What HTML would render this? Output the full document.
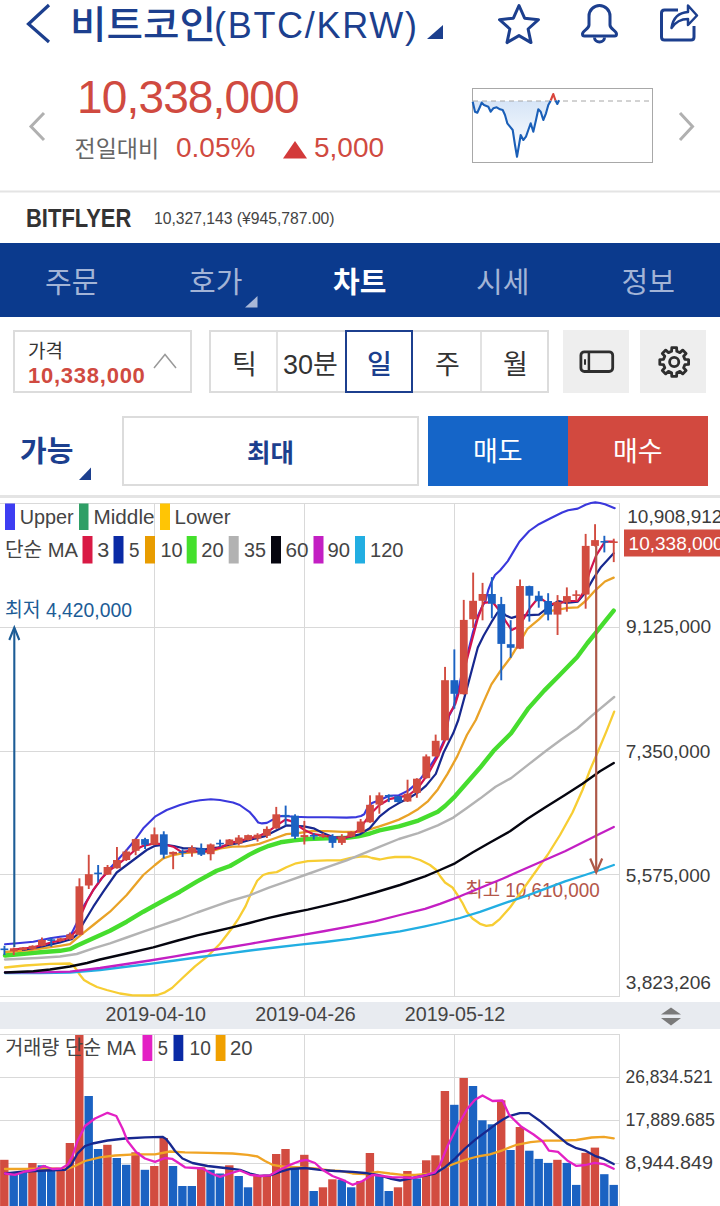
<!DOCTYPE html>
<html lang="ko">
<head>
<meta charset="utf-8">
<title>비트코인(BTC/KRW)</title>
<style>
html,body{margin:0;padding:0;}
body{width:720px;height:1206px;position:relative;overflow:hidden;background:#fff;
  font-family:"Liberation Sans","Noto Sans CJK KR",sans-serif;color:#333;}
.a{position:absolute;white-space:nowrap;line-height:1;}
.blue{color:#1c3f8e;}
.red{color:#d04a40;}
svg{position:absolute;left:0;top:0;overflow:visible;}
svg text{font-family:"Liberation Sans","Noto Sans CJK KR",sans-serif;}
/* nav */
#nav{left:0;top:243px;width:720px;height:74px;background:#0b3a8d;}
#nav .t{position:absolute;top:26px;font-size:29px;color:#a3b4d6;line-height:1;}
/* controls */
.box{position:absolute;box-sizing:border-box;border:2px solid #dcdcdc;background:#fff;}
.gbtn{position:absolute;background:#eeeeee;}
.tk{font-weight:400;} #tk3{font-weight:500;}
.seg{position:absolute;top:0;height:100%;box-sizing:border-box;border-left:2px solid #e2e2e2;}
</style>
</head>
<body>

<!-- ===== header ===== -->
<svg width="720" height="60" viewBox="0 0 720 60">
  <polyline points="49,5 28.500,24 49,42" fill="none" stroke="#1c3f8e" stroke-width="3.200"/>
  <polygon points="443,25 443,39 427,39" fill="#1c3f8e"/>
  <!-- star -->
  <path d="M519.0,5.5 L524.6,18.2 L538.5,19.7 L528.1,29.0 L531.0,42.6 L519.0,35.6 L507.0,42.6 L509.9,29.0 L499.5,19.7 L513.4,18.2 Z" fill="none" stroke="#1c3f8e" stroke-width="3" stroke-linejoin="round"/>
  <!-- bell -->
  <path d="M589,25 L589,16 A10.5,10.5 0 0 1 610,16 L610,25 C610,29 616.5,30.5 616.5,34 Q616.5,36 614.5,36 L584.5,36 Q582.5,36 582.5,34 C582.5,30.5 589,29 589,25 Z" fill="none" stroke="#1c3f8e" stroke-width="3" stroke-linejoin="round"/>
  <path d="M594.5,37.5 A5,4.5 0 0 0 604.5,37.5" fill="none" stroke="#1c3f8e" stroke-width="3"/>
  <!-- share -->
  <path d="M678,10 L664.5,10 Q661.5,10 661.5,13 L661.5,37 Q661.5,40 664.5,40 L691,40 Q694,40 694,37 L694,26" fill="none" stroke="#1c3f8e" stroke-width="3"/>
  <path d="M671.5,28 C673,18 679,12.5 688,12 L688,5.5 L697,15.5 L688,25 L688,19 C680,19 675.5,22 671.5,28 Z" fill="none" stroke="#1c3f8e" stroke-width="2.500" stroke-linejoin="round"/>
</svg>
<div class="a blue" id="title" style="left:70px;top:6px;font-size:38px;font-weight:500;transform:scaleX(1.045);transform-origin:0 0;">비트코인</div>
<div class="a blue" id="title2" style="left:214px;top:8px;font-size:36px;letter-spacing:1.700px;">(BTC/KRW)</div>

<!-- ===== price block ===== -->
<div class="a red" id="price" style="left:77px;top:74px;font-size:46px;letter-spacing:-0.85px;">10,338,000</div>
<div class="a" id="prev" style="left:74.500px;top:138px;font-size:23px;color:#666;">전일대비</div>
<div class="a red" id="pct" style="left:176px;top:134px;font-size:28px;">0.05%</div>
<div class="a red" id="chg" style="left:314px;top:134px;font-size:28px;">5,000</div>
<svg width="720" height="200" viewBox="0 0 720 200">
  <polygon points="295,141 307,158.500 283,158.500" fill="#d33a3a"/>
  <polyline points="44,113 31,126.500 44,140" fill="none" stroke="#b0b0b0" stroke-width="3"/>
  <polyline points="680,113 692.500,126.500 680,140" fill="none" stroke="#b0b0b0" stroke-width="3"/>
  <!-- mini chart -->
  <defs><linearGradient id="mg" x1="0" y1="0" x2="0" y2="1"><stop offset="0" stop-color="#d6e5f7"/><stop offset="1" stop-color="#ffffff"/></linearGradient></defs>
  <rect x="472.5" y="88.5" width="180" height="74" fill="#fff" stroke="#a8a8a8" stroke-width="1"/>
  <path d="M472.7,101 L472.7,101.7 L475.0,111.7 L477.3,112.7 L480.0,106.7 L481.7,102.7 L484.0,105.0 L488.3,106.7 L490.7,111.7 L493.3,108.3 L496.7,107.3 L500.0,109.3 L502.7,110.0 L505.0,115.0 L507.3,123.3 L510.0,126.7 L512.7,130.0 L515.0,145.0 L517.0,156.7 L519.3,143.3 L520.7,135.0 L523.3,140.0 L526.0,136.7 L528.3,130.0 L530.7,123.3 L533.3,131.7 L536.0,120.0 L538.3,109.3 L540.7,111.7 L543.3,120.0 L546.0,113.3 L548.3,105.0 L550.7,100.7 L550.7,101 Z" fill="url(#mg)"/>
  <line x1="473" y1="101" x2="652" y2="101" stroke="#a6a6a6" stroke-width="1" stroke-dasharray="5,4"/>
  <polyline points="472.7,101.7 475.0,111.7 477.3,112.7 480.0,106.7 481.7,102.7 484.0,105.0 488.3,106.7 490.7,111.7 493.3,108.3 496.7,107.3 500.0,109.3 502.7,110.0 505.0,115.0 507.3,123.3 510.0,126.7 512.7,130.0 515.0,145.0 517.0,156.7 519.3,143.3 520.7,135.0 523.3,140.0 526.0,136.7 528.3,130.0 530.7,123.3 533.3,131.7 536.0,120.0 538.3,109.3 540.7,111.7 543.3,120.0 546.0,113.3 548.3,105.0 550.7,100.7" fill="none" stroke="#1a5fb8" stroke-width="2.100" stroke-linejoin="round"/>
  <polyline points="550.7,100.500 553.3,94 555.5,100.500" fill="none" stroke="#d9453c" stroke-width="2.100" stroke-linejoin="round"/>
  <polyline points="555.5,100.500 557.3,104 559.2,100.300" fill="none" stroke="#1a5fb8" stroke-width="2.100" stroke-linejoin="round"/>
  <line x1="0" y1="191.500" x2="720" y2="191.500" stroke="#e4e4e4" stroke-width="2"/>
</svg>

<div class="a" id="bitflyer" style="left:25.500px;top:205px;font-size:26px;font-weight:bold;color:#333;transform:scaleX(0.845);transform-origin:0 0;">BITFLYER</div>
<div class="a" id="bfprice" style="left:154px;top:210.500px;font-size:15.700px;color:#444;">10,327,143 (¥945,787.00)</div>

<!-- ===== nav ===== -->
<div class="a" id="nav">
  <div class="t" id="n1" style="left:45px;">주문</div>
  <div class="t" id="n2" style="left:189px;">호가</div>
  <div class="t" id="n3" style="left:333px;color:#fff;font-weight:bold;">차트</div>
  <div class="t" id="n4" style="left:476px;">시세</div>
  <div class="t" id="n5" style="left:621.500px;">정보</div>
  <svg width="720" height="74"><polygon points="257.500,53 257.500,64.500 245,64.500" fill="#a9b8d8"/></svg>
</div>

<!-- ===== controls ===== -->
<div class="box" style="left:13px;top:330px;width:179px;height:63px;"></div>
<div class="a" id="gakyuk" style="left:28px;top:342px;font-size:19px;color:#333;">가격</div>
<div class="a red" id="gprice" style="left:28px;top:365px;font-size:22px;font-weight:bold;letter-spacing:0.750px;">10,338,000</div>
<svg width="720" height="400"><polyline points="154,368 165,354.500 176,368" fill="none" stroke="#999" stroke-width="1.500"/></svg>

<div class="box" style="left:209px;top:330px;width:340px;height:63px;"></div>
<div class="a" style="left:276px;top:332px;width:2px;height:59px;background:#e2e2e2;"></div>
<div class="a" style="left:480px;top:332px;width:2px;height:59px;background:#e2e2e2;"></div>
<div class="a" style="left:345px;top:330px;width:68px;height:63px;box-sizing:border-box;border:2px solid #1c3f8e;"></div>
<div class="a tk" id="tk1" style="left:232px;top:351.500px;font-size:27px;color:#333;">틱</div>
<div class="a tk" id="tk2" style="left:283px;top:351.500px;font-size:27px;color:#333;">30분</div>
<div class="a tk blue" id="tk3" style="left:367px;top:351.500px;font-size:27px;">일</div>
<div class="a tk" id="tk4" style="left:435px;top:351.500px;font-size:27px;color:#333;">주</div>
<div class="a tk" id="tk5" style="left:503px;top:351.500px;font-size:27px;color:#333;">월</div>

<div class="gbtn" style="left:563px;top:330px;width:66px;height:63px;"></div>
<div class="gbtn" style="left:640px;top:330px;width:66px;height:63px;"></div>
<svg width="720" height="400">
  <rect x="580.9" y="351.800" width="31.800" height="19.700" rx="3.500" fill="none" stroke="#2e2e2e" stroke-width="2.800"/>
  <line x1="588.9" y1="351.800" x2="588.9" y2="371.500" stroke="#2e2e2e" stroke-width="2.500"/>
  <line x1="585" y1="359.300" x2="585" y2="364.800" stroke="#2e2e2e" stroke-width="2"/>
  <path d="M671.6,351.3 L671.8,347.6 L676.6,347.6 L676.8,351.3 L679.9,352.6 L682.7,350.1 L686.1,353.5 L683.6,356.3 L684.9,359.4 L688.6,359.6 L688.6,364.4 L684.9,364.6 L683.6,367.7 L686.1,370.5 L682.7,373.9 L679.9,371.4 L676.8,372.7 L676.6,376.4 L671.8,376.4 L671.6,372.7 L668.5,371.4 L665.7,373.9 L662.3,370.5 L664.8,367.7 L663.5,364.6 L659.8,364.4 L659.8,359.6 L663.5,359.4 L664.8,356.3 L662.3,353.5 L665.7,350.1 L668.5,352.6 Z" fill="none" stroke="#2e2e2e" stroke-width="2.800" stroke-linejoin="round"/>
  <circle cx="674.2" cy="362" r="4.600" fill="none" stroke="#2e2e2e" stroke-width="2.800"/>
</svg>

<!-- ===== order row ===== -->
<div class="a blue" id="ganung" style="left:20px;top:438px;font-size:29px;font-weight:bold;">가능</div>
<svg width="720" height="500"><polygon points="91,467.500 91,480 79,480" fill="#1c3f8e"/></svg>
<div class="box" style="left:122px;top:416px;width:297px;height:70px;"></div>
<div class="a blue" id="choidae" style="left:247px;top:441px;font-size:25.500px;font-weight:bold;">최대</div>
<div class="a" style="left:428px;top:416px;width:140px;height:70px;background:#1565c8;"></div>
<div class="a" style="left:568px;top:416px;width:140px;height:70px;background:#d2493f;"></div>
<div class="a" id="maedo" style="left:473px;top:439px;font-size:27px;color:#fff;">매도</div>
<div class="a" id="maesu" style="left:613px;top:439px;font-size:27px;color:#fff;">매수</div>

<!-- ===== chart ===== -->
<div class="a" style="left:0;top:495px;width:720px;height:3px;background:#e4e4e4;"></div>
<div class="a" style="left:0;top:1002px;width:720px;height:27px;background:#e8ebf0;"></div>

<svg id="chart" width="720" height="1206" viewBox="0 0 720 1206">
<!--main-->
<g shape-rendering="crispEdges" stroke="#d9d9d9" stroke-width="1" fill="none">
<path d="M0,503.5 H619.5 V996.5 H0"/>
<line x1="154.5" y1="504" x2="154.5" y2="996"/>
<line x1="304.5" y1="504" x2="304.5" y2="996"/>
<line x1="454.5" y1="504" x2="454.5" y2="996"/>
<line x1="0" y1="627.5" x2="619" y2="627.5"/>
<line x1="0" y1="751.5" x2="619" y2="751.5"/>
<line x1="0" y1="874.5" x2="619" y2="874.5"/>
</g>
<text x="5" y="617" font-size="20" fill="#1c5c96" textLength="127" lengthAdjust="spacingAndGlyphs">최저 4,420,000</text>
<text x="465.3" y="897" font-size="20" fill="#b4574a" textLength="134.500" lengthAdjust="spacingAndGlyphs">최고 10,610,000</text>
<g fill="none" stroke-linejoin="round" stroke-linecap="round">
<polyline points="5,967.5 25,965.5 50,963.8 70,963.5 73,965 76,969 80,975 84,980 90,983.5 97,987 106.7,990 120,993.5 132.5,995.3 150,995.5 157.5,995 165,992.3 172,988 182.5,978 195,966.3 207.5,956.3 220,943.8 226,936 232.5,927.5 237.8,919.7 245.6,906.1 251.4,892.5 257.2,880.8 263.1,875 268.9,873.1 276.7,872.1 286.4,867.2 296.1,863.3 307.8,861.2 327.2,860.4 340.8,860.4 350.6,857.8 360.3,856.5 367,856.5 372,858 380,859.5 388,857.8 395,857 410,857 420,860 430,865 436.3,870 440,876 445,882.5 452.5,887.5 457.5,895 462.5,903 467,912 472.5,918.5 480,923.8 486.3,925.8 492.5,925 500,918.8 510,907.5 522.5,890 535,872.5 547.5,855 560,835 572.5,812.5 582.5,790 590,770 598,751.5 606.4,731.4 614.2,711.6" stroke="#f7cd33" stroke-width="2.3"/>
<polyline points="5,944.2 20,943 33.3,941.7 50,938.3 60,936.7 66.7,936 71.7,933.3 76.7,923.3 83.3,906.7 93.3,890 101.7,878.3 110,868.3 118.3,859.2 126.7,850 135,840 143.3,828.3 155,816.7 166.7,810 180,805 191.4,801.7 200,800.2 210.8,799.3 220,800 226.4,801.3 233,802.5 239.7,805 249.4,811.8 254,817 258.2,822.5 262,823.4 266.9,822.9 272.8,819.6 280.6,816.1 287,816.2 294.2,816.7 307.8,817.2 327.2,817.2 346.7,817.6 356.4,817.1 361,816 364.2,814.3 367.8,807 372,803 379.4,800.3 389.2,795.7 398.9,795.3 408.6,790.4 418.3,781.7 428.1,769 437.8,754.4 445.6,737 449,716 453.3,708 458.3,690 463,668 468,652 473,632 477.8,616 482,607 485.6,600.8 488.3,590 491.4,582 495,575 500,570.5 507.8,561.1 513.6,551.4 519.4,541.7 529.2,531 538.9,524.2 550.6,518.3 562.2,512.5 568.1,510.2 577.8,508.6 585.6,504.7 591,503 595.3,502.4 600,503 605,504.3 614.7,508.2" stroke="#3a38dc" stroke-width="2.1"/>
<polyline points="5,973 40,973 70,972.6 100,970 120,967.5 150,963.8 175,960.5 200,957 225,953.8 250,950.5 275,947.5 300,944.7 325,942 350,938.8 375,935 400,931.3 425,926.3 440,923 460,918 480,911.8 502.5,903.8 525,896.3 545,888.8 565,881.3 585,875 600,870 613.8,865" stroke="#22aee2" stroke-width="2.3"/>
<polyline points="5,972.3 40,972.3 70,971.7 100,968 120,965 150,960.5 175,956.3 200,952 225,948 250,943.8 275,939.5 300,935.3 325,931 350,926.3 375,921.3 400,915 425,908.8 440,903.8 460,896.3 480,888 502.5,878.8 525,868.8 545,860 565,851.3 585,841.3 600,833.8 613.8,827" stroke="#c31fc3" stroke-width="2.3"/>
<polyline points="5,972.5 33.3,971.2 50,969.5 70,966.5 87,963 100,959.5 126.7,953.5 153.3,947.3 177.8,940.5 197.2,935.4 216.7,931 230,927.8 249.4,923 268.9,917.8 288.3,913.5 307.8,909.6 327.2,905.1 346.7,900.3 375,892.5 400,885 425,876.3 440,870 455,863.3 472.5,852.5 490,842.5 510,831.3 527.5,818.8 545,807.5 565,795 582.5,783.8 600,771.3 613.8,763" stroke="#05050f" stroke-width="2.4"/>
<polyline points="5,959.5 37.5,958 60,956.5 76.7,954 93.3,948.3 110,943.3 126.7,937.5 143.3,931.7 160,925.8 180,919 197.2,912.5 216.7,905.7 230,901 249.4,895.4 268.9,887.6 288.3,880.8 307.8,874 327.2,867.2 346.7,860.4 360,854.8 379.4,846.8 398.9,839 418.3,833.2 437.8,825.4 453.3,817.6 466.9,807.9 480,798.6 495.6,786.8 511.1,778.1 528.6,764.4 546.1,750.8 561.7,739.2 577.2,728.5 592.8,714.9 614.2,697" stroke="#b3b3b3" stroke-width="2.4"/>
<polyline points="5,955.5 37.5,952.5 60,950.8 70,949.2 76.7,945.8 93.3,938.3 110,930.8 126.7,921.7 143.3,911.7 160,902.5 180,891.7 197.2,881.4 216.7,870.7 230,866 239.7,860.4 249.4,854.6 259.2,849.7 268.9,845.8 280.6,842.3 294.2,840.4 307.8,839 327.2,838.4 346.7,837.7 358.3,836.3 370,833.5 379.4,830.3 398.9,826.4 418.3,820.6 437.8,811.8 445,806 455,796.3 467.5,782 480,767.8 493.6,750.8 511.1,733.3 528.6,708.1 544.2,690.6 559.7,675 577.2,657 587.5,643 597.2,631.1 605,621.4 613.7,610.7" stroke="#46dd2e" stroke-width="4.4"/>
<polyline points="5,952 30,950 60,945.8 70,944.2 76.7,938.3 85,931.7 93.3,925 110,911.7 126.7,895 143.3,875 155,865 163.3,858.3 173.3,855 183.6,853.2 197.2,852.2 208.9,851.8 220.6,848.3 232.2,846.6 245.6,846.4 259.2,843.9 272.8,839 286.4,834.2 298.1,833.2 311.7,831.2 327.2,831.2 342.8,831.8 356.4,831.8 362,831.5 369.7,829.3 379.4,826.4 389.2,823.1 398.9,819.6 408.6,814.7 418.3,808.9 428.1,801.1 437.8,789.4 447.5,773.9 457.2,756.4 466.9,735 475.8,720 483.6,701.9 491.4,684.4 501.1,670 510.8,657.2 519.4,642.8 527.2,629.2 538.9,619.4 546.7,611.7 558.3,609.7 568.1,607.8 577.8,607.4 585.6,601 595.3,590.3 605,581.5 613.7,577.6" stroke="#e9a227" stroke-width="2.3"/>
<polyline points="23,950 42,946.5 60,942.5 66.7,940.5 71.7,939.2 76.7,935 83.3,923.3 93.3,906.7 103.3,891.7 116.7,872.5 126.7,865 136.7,857.5 146.7,850 155,845.8 164.2,844.6 173.9,846 183.6,848.3 193.3,848.3 205,849.3 216.7,847.7 228.3,845 241.7,842.3 253.3,839 265,836.1 274.7,831.2 286.4,825.4 294.2,825.8 303.9,826.4 313.6,828.3 323.3,833.2 333.1,837.1 342.8,838.1 352.5,836.1 360,834.2 369.7,828.3 379.4,816.7 389.2,808.9 398.9,803.1 408.6,798.2 418.3,792.4 426.1,785.6 435.8,773.9 443.6,752.5 453.3,733.1 458.3,720 468,684.4 477.8,647.5 483.6,635.8 491.4,622.2 497.2,613 501,610.5 505.8,615.6 511.7,617.9 519.4,615.6 529.2,615.2 538.9,614.6 546.7,608.7 558.3,601 566.1,602.9 577.8,601.6 585.6,592.2 593.3,578.6 601.1,566.9 613.7,553.3" stroke="#17288f" stroke-width="2.2"/>
<polyline points="14,949.3 23,948.5 32.5,947.5 42,945 51,942.5 60.6,940.5 70,937.5 76.7,930 81.7,913.3 86.7,901.7 93.3,890 101.7,878.3 110,870 118.3,864.2 126.7,857.5 135,850 143.3,845.8 153.3,843.7 163.3,844.2 173.3,846.7 181.7,852.2 191.4,850.7 201,852.2 210.8,850.3 220.6,847.4 230,842.9 239.7,841 249.4,838.1 259.2,836.1 268.9,831.2 276.7,825.4 285.4,819.6 290.3,820.9 296.1,824.4 304.9,830.3 313.6,834.2 323.3,835.7 333.1,837.1 342.8,838.1 350.6,836.1 360.3,828.5 369.7,814.7 379.4,805 389.2,799.2 398.9,797.2 408.6,795.3 418.3,787.5 428.1,773.9 437.8,756.4 445.6,738.9 448.6,715.6 455.3,704 458.3,694.2 468,655.3 477.8,618.3 483.6,602.8 492.4,601.8 501.1,612.5 505.8,621.4 511.7,630.1 517.5,627.2 523.3,619.4 530.1,607.8 538.9,597.1 548.6,603.9 558.3,603.9 566.1,601 577.8,601 583.6,592.2 589.4,572.8 596.2,555.3 605,541.7 613.7,541.7" stroke="#d3134d" stroke-width="2.2"/>
</g>
<g fill="#d24c40"><rect x="9.9" y="948.3" width="7.8" height="3"/><rect x="12.8" y="947.5" width="1.9" height="7.5"/><rect x="19.3" y="947.5" width="7.8" height="2.5"/><rect x="22.2" y="947" width="1.9" height="3.5"/><rect x="28.6" y="945.8" width="7.8" height="3.4"/><rect x="31.6" y="945.3" width="1.9" height="4.4"/><rect x="38" y="940" width="7.8" height="5.8"/><rect x="41" y="937.5" width="1.9" height="8.8"/><rect x="56.8" y="938.3" width="7.8" height="2.5"/><rect x="59.7" y="937.8" width="1.9" height="3.5"/><rect x="66.1" y="934.5" width="7.8" height="4.7"/><rect x="69.1" y="932.5" width="1.9" height="7.2"/><rect x="75.5" y="886.3" width="7.8" height="48.5"/><rect x="78.5" y="878.3" width="1.9" height="57"/><rect x="84.9" y="874.2" width="7.8" height="11.3"/><rect x="87.8" y="854.8" width="1.9" height="34.2"/><rect x="103.6" y="867" width="7.8" height="7.7"/><rect x="106.6" y="865" width="1.9" height="10"/><rect x="113" y="860" width="7.8" height="8.3"/><rect x="116" y="847" width="1.9" height="21.6"/><rect x="122.4" y="851.5" width="7.8" height="8.5"/><rect x="125.3" y="849.6" width="1.9" height="11.4"/><rect x="131.8" y="839.1" width="7.8" height="11.7"/><rect x="134.7" y="838.6" width="1.9" height="16.6"/><rect x="150.5" y="834.3" width="7.8" height="10.5"/><rect x="153.5" y="827.5" width="1.9" height="17.7"/><rect x="169.2" y="851.9" width="7.8" height="2.6"/><rect x="172.2" y="851.5" width="1.9" height="17.7"/><rect x="188" y="847.7" width="7.8" height="5.1"/><rect x="191" y="845.4" width="1.9" height="11.3"/><rect x="206.8" y="844.4" width="7.8" height="9.8"/><rect x="209.7" y="843.5" width="1.9" height="16.9"/><rect x="225.5" y="839.5" width="7.8" height="5.4"/><rect x="228.5" y="839" width="1.9" height="6.3"/><rect x="234.9" y="837.5" width="7.8" height="6"/><rect x="237.8" y="835.1" width="1.9" height="10.3"/><rect x="244.2" y="835.1" width="7.8" height="4.9"/><rect x="247.2" y="834.6" width="1.9" height="5.9"/><rect x="253.6" y="834.7" width="7.8" height="3.7"/><rect x="256.6" y="833.2" width="1.9" height="8.4"/><rect x="263" y="828.9" width="7.8" height="6.8"/><rect x="265.9" y="826.4" width="1.9" height="11.6"/><rect x="272.4" y="814.3" width="7.8" height="14"/><rect x="275.3" y="806.9" width="1.9" height="21.9"/><rect x="300.5" y="835.1" width="7.8" height="2"/><rect x="303.4" y="820.9" width="1.9" height="23.6"/><rect x="319.2" y="835" width="7.8" height="1.6"/><rect x="322.2" y="833.2" width="1.9" height="4.8"/><rect x="338" y="836.7" width="7.8" height="6.2"/><rect x="340.9" y="834.2" width="1.9" height="10.7"/><rect x="347.4" y="831.8" width="7.8" height="4.9"/><rect x="350.3" y="831.3" width="1.9" height="5.9"/><rect x="356.8" y="821.5" width="7.8" height="10.7"/><rect x="359.7" y="819" width="1.9" height="13.6"/><rect x="366.1" y="804.8" width="7.8" height="17.5"/><rect x="369.1" y="795.3" width="1.9" height="27.5"/><rect x="375.5" y="795.3" width="7.8" height="9.3"/><rect x="378.4" y="792.4" width="1.9" height="21.3"/><rect x="403.6" y="793.7" width="7.8" height="7.8"/><rect x="406.6" y="779.7" width="1.9" height="22.3"/><rect x="413" y="778.7" width="7.8" height="14.2"/><rect x="415.9" y="778.2" width="1.9" height="19.6"/><rect x="422.4" y="756.4" width="7.8" height="21.8"/><rect x="425.3" y="754.4" width="1.9" height="24.2"/><rect x="431.8" y="740.8" width="7.8" height="15.6"/><rect x="434.7" y="734.6" width="1.9" height="22.2"/><rect x="441.1" y="680.2" width="7.8" height="60.2"/><rect x="444.1" y="666.9" width="1.9" height="73.9"/><rect x="459.9" y="619.9" width="7.8" height="74.3"/><rect x="462.8" y="599.9" width="1.9" height="94.7"/><rect x="469.2" y="600.8" width="7.8" height="18.5"/><rect x="472.2" y="572.6" width="1.9" height="55.4"/><rect x="478.6" y="594" width="7.8" height="6.8"/><rect x="481.6" y="582.9" width="1.9" height="37.4"/><rect x="516.1" y="586" width="7.8" height="62.7"/><rect x="519.1" y="579.5" width="1.9" height="69.6"/><rect x="553.6" y="601.9" width="7.8" height="12.7"/><rect x="556.6" y="595.1" width="1.9" height="39.9"/><rect x="563" y="596.1" width="7.8" height="6.2"/><rect x="565.9" y="587.4" width="1.9" height="24.3"/><rect x="572.4" y="594.3" width="7.8" height="1.6"/><rect x="575.3" y="590.3" width="1.9" height="10.7"/><rect x="581.8" y="545.9" width="7.8" height="48.7"/><rect x="584.7" y="533.9" width="1.9" height="74.8"/><rect x="591.1" y="540.1" width="7.8" height="5.8"/><rect x="594.1" y="524.2" width="1.9" height="22.3"/><rect x="609.9" y="541.4" width="7.8" height="1.6"/><rect x="612.8" y="538.7" width="1.9" height="23.4"/></g>
<g fill="#1b62c2"><rect x="0.5" y="948.5" width="7.8" height="1.6"/><rect x="3.5" y="945.8" width="1.9" height="9.2"/><rect x="47.4" y="939.3" width="7.8" height="1.6"/><rect x="50.3" y="937.5" width="1.9" height="9.2"/><rect x="94.2" y="872.6" width="7.8" height="1.6"/><rect x="97.2" y="865" width="1.9" height="17.5"/><rect x="141.1" y="839.1" width="7.8" height="5.7"/><rect x="144.1" y="837.8" width="1.9" height="11.2"/><rect x="159.9" y="834.3" width="7.8" height="20.4"/><rect x="162.8" y="831.3" width="1.9" height="27.2"/><rect x="178.6" y="851.5" width="7.8" height="1.6"/><rect x="181.6" y="849.3" width="1.9" height="7.7"/><rect x="197.4" y="848.3" width="7.8" height="6.4"/><rect x="200.3" y="843.5" width="1.9" height="12.5"/><rect x="216.1" y="842.8" width="7.8" height="1.6"/><rect x="219.1" y="839.6" width="1.9" height="7.2"/><rect x="281.8" y="814.9" width="7.8" height="1.6"/><rect x="284.7" y="805.6" width="1.9" height="19.8"/><rect x="291.1" y="815.7" width="7.8" height="21"/><rect x="294.1" y="814.3" width="1.9" height="24.7"/><rect x="309.9" y="835" width="7.8" height="1.6"/><rect x="312.8" y="833.2" width="1.9" height="6.4"/><rect x="328.6" y="836.1" width="7.8" height="6.8"/><rect x="331.6" y="834.2" width="1.9" height="13.6"/><rect x="384.9" y="795" width="7.8" height="1.6"/><rect x="387.8" y="794.3" width="1.9" height="7.8"/><rect x="394.2" y="796.2" width="7.8" height="5.9"/><rect x="397.2" y="795.8" width="1.9" height="6.7"/><rect x="450.5" y="680.2" width="7.8" height="13.6"/><rect x="453.4" y="649.4" width="1.9" height="59.3"/><rect x="488" y="594" width="7.8" height="9.7"/><rect x="490.9" y="577.1" width="1.9" height="41.2"/><rect x="497.4" y="604.1" width="7.8" height="39.8"/><rect x="500.3" y="596.9" width="1.9" height="83.4"/><rect x="506.8" y="644.2" width="7.8" height="3.6"/><rect x="509.7" y="620.2" width="1.9" height="37.6"/><rect x="525.5" y="586.1" width="7.8" height="9.6"/><rect x="528.4" y="585.7" width="1.9" height="35.9"/><rect x="534.9" y="595.7" width="7.8" height="5.5"/><rect x="537.8" y="591.2" width="1.9" height="16.5"/><rect x="544.2" y="601" width="7.8" height="13.6"/><rect x="547.2" y="593.2" width="1.9" height="27.2"/><rect x="600.5" y="541" width="7.8" height="1.6"/><rect x="603.4" y="535.8" width="1.9" height="16.6"/></g>
<g fill="none" stroke="#1c5c96" stroke-width="2.100"><line x1="14.3" y1="628" x2="14.3" y2="947"/><polyline points="9.300,640 14.3,627.500 19.3,640"/></g>
<g fill="none" stroke="#ad5848" stroke-width="2.200"><line x1="596.2" y1="546" x2="596.2" y2="872"/><polyline points="590.2,858.500 596.2,872.500 602.2,858.500"/></g>
<!--vol-->
<g shape-rendering="crispEdges" stroke="#d9d9d9" stroke-width="1" fill="none">
<path d="M0,1034.500 H619.5 V1206"/>
<line x1="154.5" y1="1035" x2="154.5" y2="1206"/>
<line x1="304.5" y1="1035" x2="304.5" y2="1206"/>
<line x1="454.5" y1="1035" x2="454.5" y2="1206"/>
<line x1="0" y1="1077.5" x2="619" y2="1077.5"/>
<line x1="0" y1="1120.5" x2="619" y2="1120.5"/>
<line x1="0" y1="1163.5" x2="619" y2="1163.5"/>
</g>
<g fill="#d24c40"><rect x="0.1" y="1159.8" width="8.4" height="46.2"/><rect x="28.2" y="1163" width="8.4" height="43"/><rect x="56.4" y="1171" width="8.4" height="35"/><rect x="65.7" y="1143" width="8.4" height="63"/><rect x="75.1" y="1035" width="8.4" height="171"/><rect x="103.2" y="1144.8" width="8.4" height="61.2"/><rect x="131.3" y="1152.3" width="8.4" height="53.7"/><rect x="150.1" y="1166" width="8.4" height="40"/><rect x="159.5" y="1138" width="8.4" height="68"/><rect x="197" y="1167.3" width="8.4" height="38.7"/><rect x="225.1" y="1165.3" width="8.4" height="40.7"/><rect x="253.2" y="1176" width="8.4" height="30"/><rect x="262.6" y="1174.8" width="8.4" height="31.2"/><rect x="272" y="1154" width="8.4" height="52"/><rect x="281.3" y="1149" width="8.4" height="57"/><rect x="300.1" y="1154.8" width="8.4" height="51.2"/><rect x="318.8" y="1187.3" width="8.4" height="18.7"/><rect x="328.2" y="1179.3" width="8.4" height="26.7"/><rect x="356.3" y="1181" width="8.4" height="25"/><rect x="365.7" y="1153" width="8.4" height="53"/><rect x="393.8" y="1187.3" width="8.4" height="18.7"/><rect x="403.2" y="1171" width="8.4" height="35"/><rect x="422" y="1160.3" width="8.4" height="45.7"/><rect x="431.3" y="1155.3" width="8.4" height="50.7"/><rect x="440.7" y="1091" width="8.4" height="115"/><rect x="459.5" y="1078" width="8.4" height="128"/><rect x="497" y="1100.3" width="8.4" height="105.7"/><rect x="515.7" y="1127" width="8.4" height="79"/><rect x="553.2" y="1159.8" width="8.4" height="46.2"/><rect x="581.4" y="1152.8" width="8.4" height="53.2"/><rect x="590.7" y="1147.6" width="8.4" height="58.4"/></g>
<g fill="#1b62c2"><rect x="9.5" y="1173.5" width="8.4" height="32.5"/><rect x="18.9" y="1172.3" width="8.4" height="33.7"/><rect x="37.6" y="1165.3" width="8.4" height="40.7"/><rect x="47" y="1171" width="8.4" height="35"/><rect x="84.5" y="1096" width="8.4" height="110"/><rect x="93.9" y="1149" width="8.4" height="57"/><rect x="112.6" y="1158" width="8.4" height="48"/><rect x="122" y="1164.8" width="8.4" height="41.2"/><rect x="140.7" y="1169.8" width="8.4" height="36.2"/><rect x="168.8" y="1166" width="8.4" height="40"/><rect x="178.2" y="1186" width="8.4" height="20"/><rect x="187.6" y="1186" width="8.4" height="20"/><rect x="206.3" y="1169.8" width="8.4" height="36.2"/><rect x="215.7" y="1173.5" width="8.4" height="32.5"/><rect x="234.5" y="1176" width="8.4" height="30"/><rect x="243.8" y="1187.3" width="8.4" height="18.7"/><rect x="290.7" y="1167.3" width="8.4" height="38.7"/><rect x="309.5" y="1191" width="8.4" height="15"/><rect x="337.6" y="1179.8" width="8.4" height="26.2"/><rect x="347" y="1187.3" width="8.4" height="18.7"/><rect x="375.1" y="1174.8" width="8.4" height="31.2"/><rect x="384.5" y="1191" width="8.4" height="15"/><rect x="412.6" y="1178.5" width="8.4" height="27.5"/><rect x="450.1" y="1104.8" width="8.4" height="101.2"/><rect x="468.8" y="1086" width="8.4" height="120"/><rect x="478.2" y="1120.3" width="8.4" height="85.7"/><rect x="487.6" y="1124.3" width="8.4" height="81.7"/><rect x="506.3" y="1150" width="8.4" height="56"/><rect x="525.1" y="1150.7" width="8.4" height="55.3"/><rect x="534.5" y="1158.9" width="8.4" height="47.1"/><rect x="543.9" y="1162.9" width="8.4" height="43.1"/><rect x="562.6" y="1162.9" width="8.4" height="43.1"/><rect x="572" y="1184.9" width="8.4" height="21.1"/><rect x="600.1" y="1174.2" width="8.4" height="31.8"/><rect x="609.5" y="1184.9" width="8.4" height="21.1"/></g>
<g fill="none" stroke-linejoin="round" stroke-linecap="round">
<polyline points="5,1169 25,1169 50,1168.5 67.5,1169 75,1166 85,1161 100,1157.3 115,1155.5 135,1154.3 155,1154.3 170,1151.5 185,1152.3 207.5,1152.8 232.5,1153.5 247.5,1154.8 257.5,1156.5 265,1161 272.5,1164.8 282.5,1166.5 300,1167.3 315,1168.5 330,1170.5 340,1170.8 352.5,1173.5 365,1174 377.5,1171.8 390,1173.5 402.5,1174.8 415,1174.8 427.5,1174 437.5,1171.8 445,1167.3 455,1163.5 465,1159.8 477.5,1156.5 490,1154.3 502.5,1150.3 515.3,1145.2 530.6,1142.1 545.8,1140.6 561.1,1140.6 576.4,1140 591.7,1137.5 603.9,1136.9 613.7,1138.4" stroke="#f0a425" stroke-width="2.3"/>
<polyline points="5,1173.5 25,1171.5 45,1170.5 65,1169.8 71.3,1164.8 77.5,1153.5 85,1146 92.5,1143.5 107.5,1140.5 125,1138.5 145,1137.3 162.5,1136.8 166,1139 170,1144 175,1151 182.5,1158.5 192.5,1163 207.5,1166 225,1168 240,1169.8 250,1173.5 260,1176 270,1175.3 280,1171.8 290,1169 305,1168 320,1169.8 335,1171 352.5,1171.8 365,1173 377.5,1174.8 390,1178.5 400,1180.5 410,1178.5 422.5,1176 435,1173.5 445,1167.3 455,1158.5 465,1148.5 475,1139.8 485,1132.3 495,1124.8 502.5,1119.8 509.2,1116.1 519.9,1113.1 529,1113.1 539.7,1120.7 548.9,1128.4 558,1136 567.2,1143.6 576.4,1148.2 585.6,1150.7 594.7,1155.8 603.9,1158.9 613.7,1164.1" stroke="#17288f" stroke-width="2.3"/>
<polyline points="5,1173.5 15,1174.8 25,1171.5 35,1169.8 43.8,1166 52.5,1169 61.3,1168.5 67.5,1164.8 72.5,1156 77.5,1141 85,1126 95,1118.5 107.5,1112.8 116.3,1116 122.5,1128.5 127.5,1141 136.3,1152.3 145,1158.5 155,1161.8 165,1158 172,1158.8 177.5,1162.3 185,1167.3 195,1168 202.5,1168.5 211.3,1173.5 220,1176.8 230,1173.5 240,1170.5 250,1174.8 260,1176 270,1175.3 280,1169.8 290,1164.8 300,1161 306.3,1159.8 315,1163 322.5,1169.8 332.5,1176 342.5,1179.8 352.5,1184.8 362.5,1181 372.5,1174.8 382.5,1176 392.5,1177.3 402.5,1177.3 412.5,1178 422.5,1176 435,1172.3 440,1164.8 447.5,1146 457.5,1126 467.5,1108.5 475,1099.8 482.5,1095.5 492.5,1101 502.5,1100.5 509.2,1115 521.4,1126.8 533.6,1134.5 542.8,1141.5 548.9,1150.7 558,1151.9 567.2,1160.4 576.4,1165.9 585.6,1165 594.7,1162.9 603.9,1164.1 613.7,1168.7" stroke="#e321c4" stroke-width="2.3"/>
</g>
<!--texts-->
<rect x="5" y="503.5" width="10" height="26.5" fill="#3d3df2"/>
<text x="19.7" y="523.7" font-size="20" fill="#444" textLength="54" lengthAdjust="spacingAndGlyphs">Upper</text>
<rect x="79" y="503.5" width="9.5" height="26.5" fill="#2f9f66"/>
<text x="93.5" y="523.7" font-size="20" fill="#444" textLength="61" lengthAdjust="spacingAndGlyphs">Middle</text>
<rect x="160" y="503.5" width="10" height="26.5" fill="#ffc505"/>
<text x="174.5" y="523.7" font-size="20" fill="#444" textLength="56" lengthAdjust="spacingAndGlyphs">Lower</text>
<text x="5" y="556.7" font-size="20" fill="#444" textLength="73" lengthAdjust="spacingAndGlyphs">단순 MA</text>
<rect x="82.5" y="536" width="10" height="27.5" fill="#d91a45"/>
<text x="97.3" y="556.6" font-size="20" fill="#444" textLength="12" lengthAdjust="spacingAndGlyphs">3</text>
<rect x="113.5" y="536" width="10" height="27.5" fill="#0a2aa5"/>
<text x="129" y="556.6" font-size="20" fill="#444" textLength="10.5" lengthAdjust="spacingAndGlyphs">5</text>
<rect x="145" y="536" width="10" height="27.5" fill="#e89c00"/>
<text x="160.5" y="556.6" font-size="20" fill="#444" textLength="22.2" lengthAdjust="spacingAndGlyphs">10</text>
<rect x="186.7" y="536" width="10" height="27.5" fill="#44e02c"/>
<text x="201.3" y="556.6" font-size="20" fill="#444" textLength="22.4" lengthAdjust="spacingAndGlyphs">20</text>
<rect x="228.7" y="536" width="10" height="27.5" fill="#b2b2b2"/>
<text x="244" y="556.6" font-size="20" fill="#444" textLength="22" lengthAdjust="spacingAndGlyphs">35</text>
<rect x="271" y="536" width="10" height="27.5" fill="#05050f"/>
<text x="285.5" y="556.6" font-size="20" fill="#444" textLength="23" lengthAdjust="spacingAndGlyphs">60</text>
<rect x="313.5" y="536" width="10" height="27.5" fill="#c31fc3"/>
<text x="327.5" y="556.6" font-size="20" fill="#444" textLength="22.5" lengthAdjust="spacingAndGlyphs">90</text>
<rect x="355" y="536" width="10" height="27.5" fill="#22aee2"/>
<text x="370" y="556.6" font-size="20" fill="#444" textLength="33.5" lengthAdjust="spacingAndGlyphs">120</text>
<text x="627.3" y="523.3" font-size="19" fill="#3c3c3c">10,908,912</text>
<rect x="624" y="529.5" width="96" height="27" fill="#d24c40"/>
<text x="628.6" y="549.8" font-size="19" fill="#fff">10,338,000</text>
<text x="626.1" y="633" font-size="19" fill="#3c3c3c" textLength="85" lengthAdjust="spacingAndGlyphs">9,125,000</text>
<text x="625.8" y="757.5" font-size="19" fill="#3c3c3c" textLength="84.5" lengthAdjust="spacingAndGlyphs">7,350,000</text>
<text x="625.8" y="881.6" font-size="19" fill="#3c3c3c" textLength="84.5" lengthAdjust="spacingAndGlyphs">5,575,000</text>
<text x="625.7" y="989.3" font-size="19" fill="#3c3c3c" textLength="85.3" lengthAdjust="spacingAndGlyphs">3,823,206</text>
<text x="105.5" y="1021" font-size="19.5" fill="#444" textLength="100.5" lengthAdjust="spacingAndGlyphs">2019-04-10</text>
<text x="255.3" y="1021" font-size="19.5" fill="#444" textLength="100.5" lengthAdjust="spacingAndGlyphs">2019-04-26</text>
<text x="404.8" y="1021" font-size="19.5" fill="#444" textLength="100.5" lengthAdjust="spacingAndGlyphs">2019-05-12</text>
<polygon points="661,1014.500 681,1014.500 671,1007.500" fill="#7a7a7a"/><polygon points="661,1018 681,1018 671,1025.500" fill="#7a7a7a"/>
<text x="5.2" y="1054.5" font-size="20" fill="#444" textLength="130.8" lengthAdjust="spacingAndGlyphs">거래량 단순 MA</text>
<rect x="142.5" y="1035" width="9.8" height="26" fill="#e321c4"/>
<text x="157.8" y="1054.6" font-size="20" fill="#444" textLength="10.2" lengthAdjust="spacingAndGlyphs">5</text>
<rect x="173.5" y="1035" width="9.8" height="26" fill="#0a2aa5"/>
<text x="189.5" y="1054.6" font-size="20" fill="#444" textLength="21.3" lengthAdjust="spacingAndGlyphs">10</text>
<rect x="215.7" y="1035" width="9.8" height="26" fill="#f0a000"/>
<text x="230" y="1054.6" font-size="20" fill="#444" textLength="22.5" lengthAdjust="spacingAndGlyphs">20</text>
<text x="625.5" y="1083" font-size="19" fill="#3c3c3c" textLength="87.1" lengthAdjust="spacingAndGlyphs">26,834.521</text>
<text x="625.5" y="1125.8" font-size="19" fill="#3c3c3c" textLength="89.4" lengthAdjust="spacingAndGlyphs">17,889.685</text>
<text x="625.2" y="1168.8" font-size="19" fill="#3c3c3c" textLength="87.8" lengthAdjust="spacingAndGlyphs">8,944.849</text>
</svg>

</body>
</html>
